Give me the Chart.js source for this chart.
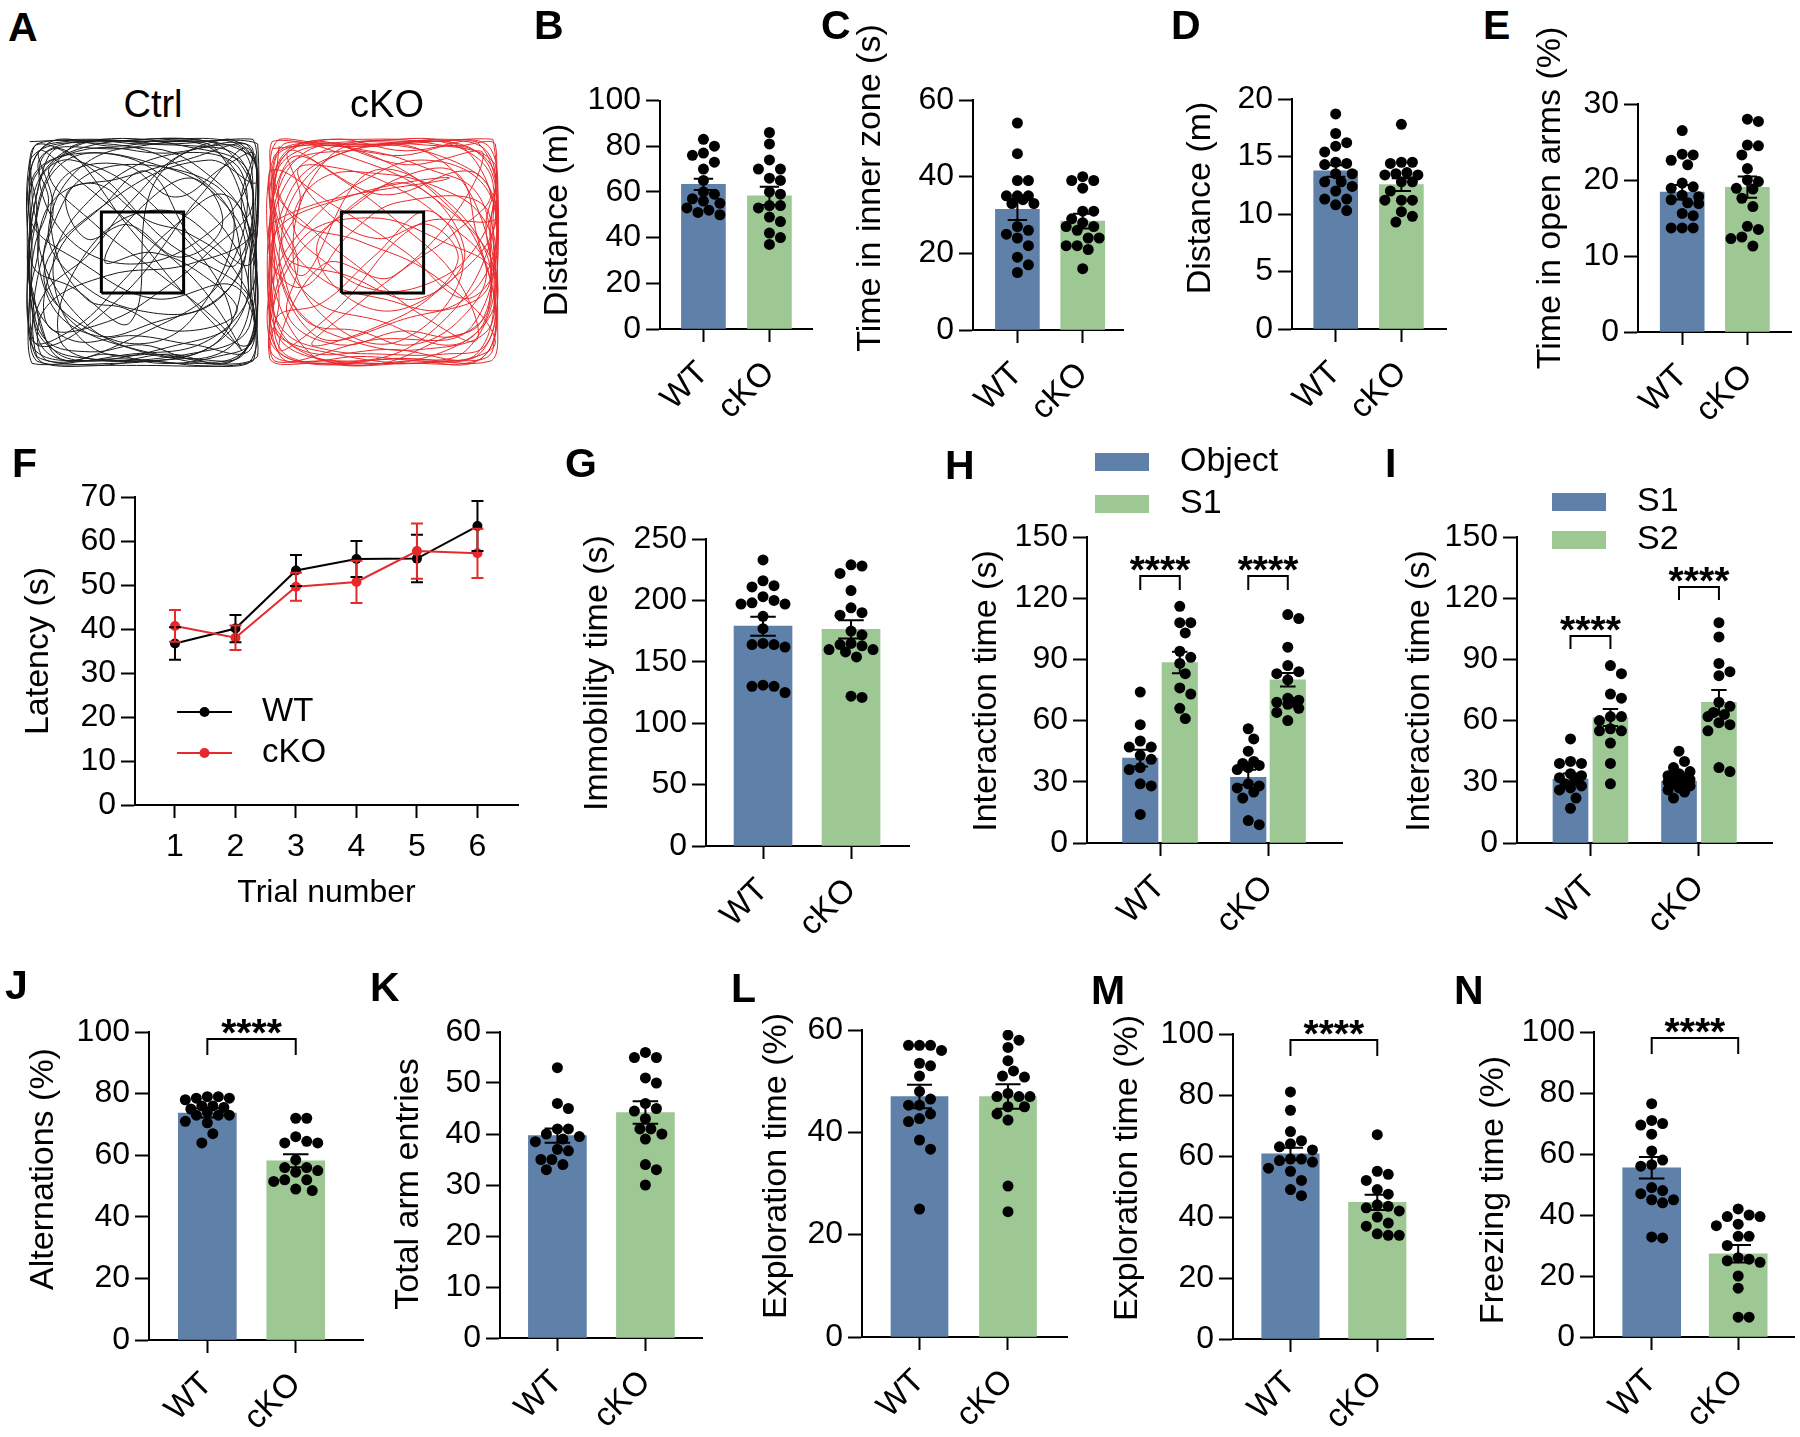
<!DOCTYPE html>
<html>
<head>
<meta charset="utf-8">
<script src="https://cdn.jsdelivr.net/npm/chart.js@4.4.1/dist/chart.umd.min.js"></script>
<style>
  body { margin: 0; background: #fff; }
  #fig { position: relative; width: 1800px; height: 1437px; background: #fff; overflow: hidden;
         font-family: "Liberation Sans", Arial, Helvetica, sans-serif; color: #000; }
  #fig canvas { position: absolute; }
  .tag { position: absolute; font-weight: bold; font-size: 41px; line-height: 1; }
  .arena { position: absolute; font-size: 38px; line-height: 1; transform: translateX(-50%); }
</style>
</head>
<body>
<div id="fig"></div>
<script>
const groups = ["WT", "cKO"];
const BLUE = "#5f80a8", GREEN = "#9dc894", RED = "#e8292c";

// A - open field tracks, arena units 0-100
const zoneSquare = [[32.5, 32.5], [67.5, 32.5], [67.5, 67.5], [32.5, 67.5], [32.5, 32.5]];
const ctrlTrack = [[2,98],[30,99],[60,97],[97,99],[98,70],[96,40],[99,5],[70,2],[40,4],[3,2],[2,35],[4,70],[15,95],[45,60],[70,30],[95,10],[97,50],[80,96],[50,98],[20,96],[5,60],[25,20],[60,5],[90,4],[96,30],[60,55],[30,85],[4,96],[3,50],[5,10],[40,30],[75,75],[95,95],[98,60],[70,45],[35,40],[8,25],[10,3],[50,15],[85,40],[92,85],[60,92],[25,70],[12,40],[30,8],[65,10],[88,22],[55,70],[20,90],[6,80],[4,20],[20,5],[80,8],[96,20],[94,75],[75,97],[40,95],[8,92],[15,60],[45,45],[80,60],[97,88],[85,99],[55,80],[45,20],[20,35],[3,45],[2,90],[35,97],[70,85],[90,60],[85,15],[50,3],[15,12],[30,55],[62,68],[96,45],[99,97],[65,98],[10,97],[2,65],[25,45],[55,30],[90,35],[97,3],[60,1],[5,5],[18,75],[50,88],[88,70],[70,20],[38,12],[8,40],[40,75],[78,90],[98,80],
    [96,92],[70,99],[35,98],[5,97],[3,75],[6,55],[2,30],[4,8],[25,3],[55,6],[85,3],[98,15],[97,40],[99,68],[94,97],[60,93],[28,95],[10,85],[30,62],[58,40],[82,20],[92,8],[75,35],[50,58],[22,82],[6,94],[12,70],[8,45],[18,22],[40,10],[72,6],[94,28],[88,55],[65,78],[40,92],[15,88],[4,60],[3,25],[12,5],[45,6],[78,12],[97,35],[95,62],[80,82],[55,95],[25,88],[10,60],[20,40],[48,25],[80,28],[96,58],[92,90],[70,94],[45,72],[28,50],[7,30],[5,3],[38,2],[66,4],[93,6],[98,48],[85,75],[62,60],[42,38],[22,18],[3,12],[2,55],[8,85],[32,99],[68,96],[95,85],[90,45],[72,55],[52,85],[33,70],[14,50],[10,18],[35,20],[60,35],[78,50],[97,72],[82,97],[50,99],[18,93],[3,80],
    [1,40],[2,15],[8,2],[30,1],[52,3],[75,1],[95,2],[99,25],[98,55],[99,85],[88,98],[62,99],[38,96],[14,99],[3,88],[5,68],[1,48],[6,22],[15,4],[35,6],[58,2],[82,5],[97,12],[95,38],[97,66],[93,94],[74,96],[48,97],[22,98],[6,90],[10,72],[4,52],[3,32],[9,12],[28,7],[50,10],[74,4],[92,15],[96,48],[92,72],[96,96],[68,90],[40,82],[18,76],[26,56],[44,62],[66,48],[84,62],[72,82],[50,70],[34,46],[54,50],[76,40],[90,24],[64,16],[42,26],[26,30],[12,55],[16,82],[42,88],[64,74],[86,88],[98,92],[98,40],[96,8],[72,10],[46,14],[20,12],[4,28],[2,58],[4,84],[24,93],[56,88],[80,76],[94,52],[82,30],[56,20],[30,14],[10,30],[8,66],[28,80],[52,64],[70,58],[88,44],[98,18],[86,2],[62,6],[36,3],[12,8],[2,38]];
const ckoTrack = [[3,95],[40,98],[80,96],[98,97],[97,60],[99,20],[96,3],[60,4],[20,2],[2,4],[4,45],[2,85],[30,70],[60,50],[85,30],[97,45],[70,75],[40,90],[8,97],[5,60],[20,30],[50,20],[80,10],[95,25],[90,70],[65,95],[30,92],[10,75],[3,30],[15,8],[55,8],[90,5],[98,40],[75,55],[45,65],[15,55],[5,15],[35,3],[70,15],[96,55],[92,92],[55,97],[20,85],[8,50],[35,40],[65,30],[85,50],[60,80],[25,60],[6,35],[4,3],[45,12],[88,18],[97,80],[75,98],[35,96],[3,98],[12,65],[40,55],[72,40],[98,12],[80,3],[30,6],[2,20],[10,90],[50,75],[88,85],[99,65],[65,62],[30,25],[6,8],[25,45],[55,40],[93,92],[60,88],[18,98],[2,75],[20,15],[62,22],[95,35],[82,68],[45,85],[15,40],[5,92],[48,96],[97,99],[98,28],[70,5],[22,4],[3,55],[38,75],[78,82],
    [2,62],[6,30],[3,6],[28,3],[62,2],[92,4],[99,30],[96,58],[98,88],[72,97],[42,99],[12,96],[4,78],[20,60],[42,42],[68,22],[90,12],[82,38],[58,62],[32,82],[10,94],[15,72],[6,50],[14,25],[36,12],[66,8],[96,18],[92,50],[76,72],[50,90],[22,96],[5,85],[8,58],[25,38],[50,30],[78,26],[97,48],[94,78],[68,90],[40,80],[18,62],[4,40],[2,12],[18,2],[52,4],[86,8],[99,52],[86,94],[56,99],[26,90],[12,48],[30,18],[58,12],[84,42],[70,68],[46,48],[24,28],[5,22],[10,5],[44,2],[75,3],[97,8],[95,68],[58,72],[36,58],[16,35],[2,48],[4,92],[38,97],[74,92],[96,76],[80,58],[62,45],[40,28],[20,10],[48,18],[72,32],[98,62],[90,98],[60,94],[28,99],[6,88],
    [2,28],[4,10],[14,3],[40,5],[66,3],[88,2],[98,14],[97,38],[99,70],[96,95],[78,99],[52,97],[26,97],[6,99],[2,80],[4,58],[2,36],[8,16],[26,8],[50,6],[76,6],[94,10],[98,34],[94,62],[98,84],[84,96],[58,92],[34,94],[10,88],[6,68],[14,46],[10,22],[32,10],[58,16],[82,14],[96,28],[90,58],[82,84],[62,84],[38,70],[22,52],[36,30],[60,26],[82,46],[70,62],[48,56],[28,66],[14,86],[34,86],[56,78],[76,64],[94,44],[84,22],[62,10],[40,16],[18,20],[8,40],[4,70],[18,94],[44,94],[70,86],[90,76],[96,50],[92,20],[74,12],[50,2],[24,2],[6,6],[3,44],[8,78],[30,96],[66,98],[92,96],[98,76],[88,50],[68,36],[46,34],[28,44],[12,62],[24,82],[50,84],[74,78],[92,66],[98,44],[90,6],[60,3],[30,2],[4,18],[2,52],[6,96]];

// B - open field distance (m)
const ofDistWT = [83, 80, 77, 76, 73, 70, 65, 60, 59, 57, 56, 55, 53, 52, 51, 50];
const ofDistKO = [86, 81, 74, 70, 70, 66, 65, 60, 59, 54, 54, 53, 49, 47, 42, 40, 37];
const ofDistMean = [63.3, 58.3], ofDistSem = [2.5, 4.0];

// C - time in inner zone (s)
const innerWT = [54, 46, 39, 39, 35, 35, 35, 34, 33, 33, 27, 26, 25, 24, 22, 19, 17, 15];
const innerKO = [40, 39, 39, 37, 31, 31, 29, 28, 27, 27, 26, 24, 24, 22, 22, 21, 16];
const innerMean = [31.5, 28.4], innerSem = [2.8, 1.9];

// D - elevated plus maze distance (m)
const epmDistWT = [18.7, 17, 16.2, 15.9, 15.4, 14.5, 14.4, 14.3, 13.5, 13.5, 12.8, 12.8, 12.4, 12, 11.3, 11.3, 10.8, 10.3];
const epmDistKO = [17.8, 14.5, 14.5, 14.4, 13.6, 13.5, 13.4, 13.4, 12.8, 12.8, 12.0, 11.2, 11.2, 11.2, 10.2, 9.8, 9.3];
const epmDistMean = [13.75, 12.55], epmDistSem = [0.5, 0.55];

// E - time in open arms (%)
const openArmsWT = [26.5, 23.4, 23.3, 22.6, 22, 19.6, 19.1, 18.9, 18, 17.8, 17.4, 17, 16.9, 15.6, 15.3, 13.7, 13.7, 13.7];
const openArmsKO = [28, 27.7, 24.6, 24.5, 23.3, 21.5, 20, 19.8, 18.9, 18.8, 17.6, 16.5, 13.9, 13.5, 12.5, 12.3, 11.3];
const openArmsMean = [18.4, 19.05], openArmsSem = [0.95, 1.4];

// F - latency per trial (s)
const trials = [1, 2, 3, 4, 5, 6];
const latencyWT = [36.7, 40.1, 53.3, 55.9, 56.0, 63.4];
const latencyWTSem = [3.7, 3.1, 3.5, 4.1, 5.4, 5.7];
const latencyKO = [40.7, 38.0, 49.6, 50.7, 57.7, 57.2];
const latencyKOSem = [3.6, 2.8, 3.2, 4.8, 6.3, 5.6];

// G - immobility time (s)
const immobWT = [233, 216, 212, 211, 203, 200, 198, 197, 197, 187, 177, 165, 164, 164, 162, 131, 130, 130, 125];
const immobKO = [229, 228, 222, 208, 194, 190, 188, 175, 172, 165, 164, 163, 160, 160, 158, 154, 122, 121];
const immobMean = [179, 176.4], immobSem = [7.7, 7.5];

// H - sociability: object vs S1 (s)
const sociObjWT = [74, 58, 50, 47, 47, 43, 41, 37, 36, 29, 28, 14];
const sociObjKO = [56, 51, 45, 40, 39, 38, 37, 36, 29, 28, 27, 25, 22, 11, 9];
const sociS1WT = [116, 108, 108, 103, 94, 91, 88, 83, 76, 73, 66, 61];
const sociS1KO = [112, 110, 96, 87, 84, 83, 80, 71, 70, 69, 69, 68, 66, 64, 60];
const sociObjMean = [41.6, 32.2], sociObjSem = [4.1, 3.7];
const sociS1Mean = [88.5, 80], sociS1Sem = [5.3, 3.3];

// I - social novelty: S1 vs S2 (s)
const novS1WT = [51, 40, 39, 39, 34, 33, 32, 31, 29, 28, 27, 26, 22, 17];
const novS1KO = [45, 40, 37, 35, 34, 33, 32, 32, 31, 31, 30, 30, 29, 28, 27, 26, 25, 22];
const novS2WT = [87, 83, 73, 71, 62, 62, 60, 56, 55, 55, 49, 39, 29];
const novS2KO = [108, 101, 88, 84, 82, 69, 67, 64, 63, 62, 59, 58, 55, 37, 35];
const novS1Mean = [31.3, 30.2], novS1Sem = [2.8, 1.5];
const novS2Mean = [61.5, 69], novS2Sem = [4.2, 6];

// J - alternations (%)
const altWT = [79, 79, 78.5, 78.5, 78, 76, 76, 75.5, 75, 74, 73, 73, 73, 71, 70.5, 67, 64];
const altKO = [72, 72, 66, 64.5, 64, 64, 58.5, 56, 56, 55, 54.5, 52, 52, 51.5, 49, 48.5];
const altMean = [73.7, 58.2], altSem = [1.5, 2.1];

// K - total arm entries
const entriesWT = [53, 46, 45, 41, 41, 40, 39.5, 39, 38.5, 37, 36.7, 35, 35, 34, 33];
const entriesKO = [56, 55, 55, 51, 50, 46, 45, 44.5, 43, 41, 41, 40, 39, 34, 33, 30];
const entriesMean = [39.7, 44.2], entriesSem = [1.4, 2.2];

// L - exploration time, training (%)
const expTrainWT = [57, 57, 57, 56, 53.5, 53, 51, 48, 46.5, 45.3, 45.3, 43.6, 42.7, 42.1, 38.5, 36.7, 25];
const expTrainKO = [59, 58, 56.6, 54, 52, 51, 50.8, 47.6, 47, 47, 47, 45, 45, 43.6, 42.4, 29.5, 24.5];
const expTrainMean = [47, 47], expTrainSem = [2.3, 2.4];

// M - exploration time, test (%)
const expTestWT = [81, 75, 68, 65, 64, 63, 62, 59, 59, 58.5, 58, 56, 55, 52, 49, 47];
const expTestKO = [67, 55, 54, 52, 49, 47.5, 44, 43.5, 43, 42, 40, 38, 37, 34.5, 34, 34];
const expTestMean = [60.7, 44.8], expTestSem = [2.0, 2.5];

// N - freezing time (%)
const freezeWT = [76.5, 71, 70, 69.5, 66.5, 61, 58, 56.5, 56, 49, 48, 47, 45, 45, 44, 32.8, 32.5];
const freezeKO = [42, 40, 39.5, 39.5, 37, 36.5, 33, 33, 30, 26, 25.5, 25, 24.5, 20, 16, 6.5, 6.5];
const freezeMean = [55.5, 27.3], freezeSem = [3.5, 2.9];

const FONT = '"Liberation Sans", Arial, Helvetica, sans-serif';
Chart.defaults.font.family = FONT;
Chart.defaults.color = "#000";

const fig = document.getElementById("fig");

function addCanvas(left, top, width, height) {
    const c = document.createElement("canvas");
    c.width = width;
    c.height = height;
    c.style.left = left + "px";
    c.style.top = top + "px";
    fig.appendChild(c);
    return c.getContext("2d");
}

function addText(cls, text, x, y) {
    const d = document.createElement("div");
    d.className = cls;
    d.textContent = text;
    d.style.left = x + "px";
    d.style.top = y + "px";
    fig.appendChild(d);
}

// spread dots sideways (scatter dot plot), overlapping once the bar width is used up
function swarm(values, cx, pxX, pxY, maxOff) {
    const d = 11;
    const placed = [];
    values.slice().sort((a, b) => b - a).forEach(v => {
        const py = v * pxY;
        let best = 0, bestGap = -1;
        for (let k = 0; ; k++) {
            const off = (k % 2 ? 1 : -1) * Math.ceil(k / 2) * d / 2;
            if (Math.abs(off) > maxOff) break;
            const gap = Math.min(Infinity, ...placed.map(p => Math.hypot(p.ox - off, p.py - py)));
            if (gap >= d) { best = off; break; }
            if (gap > bestGap) { bestGap = gap; best = off; }
        }
        placed.push({ ox: best, py, v });
    });
    return placed.map(p => ({ x: cx + p.ox / pxX, y: p.v }));
}

// mean +/- SEM
const errorBars = {
    id: "errorBars",
    afterDatasetsDraw(chart) {
        const { ctx, scales: { y } } = chart;
        chart.data.datasets.forEach((ds, di) => {
            if (!ds.errorBars) return;
            const meta = chart.getDatasetMeta(di);
            ctx.save();
            ctx.strokeStyle = ds.errorColor || "#000";
            ctx.lineWidth = 2;
            meta.data.forEach((el, i) => {
                const v = ds.data[i].y, e = ds.errorBars[i];
                const hi = y.getPixelForValue(v + e), lo = y.getPixelForValue(v - e);
                const half = ds.capHalf || el.width * 0.22;
                ctx.beginPath();
                ctx.moveTo(el.x, hi); ctx.lineTo(el.x, lo);
                ctx.moveTo(el.x - half, hi); ctx.lineTo(el.x + half, hi);
                ctx.moveTo(el.x - half, lo); ctx.lineTo(el.x + half, lo);
                ctx.stroke();
            });
            ctx.restore();
        });
    }
};

// significance brackets
function sigMarks(items) {
    return {
        id: "sigMarks",
        afterDraw(chart) {
            const { ctx, scales: { x, y } } = chart;
            items.forEach(m => {
                const x1 = x.getPixelForValue(m.x1), x2 = x.getPixelForValue(m.x2);
                const yy = Math.round(y.getPixelForValue(m.y));
                ctx.save();
                ctx.strokeStyle = "#000";
                ctx.lineWidth = 2;
                ctx.beginPath();
                ctx.moveTo(x1, yy + m.leg); ctx.lineTo(x1, yy); ctx.lineTo(x2, yy); ctx.lineTo(x2, yy + m.leg);
                ctx.stroke();
                ctx.fillStyle = "#000";
                ctx.font = "bold 39px " + FONT;
                ctx.textAlign = "center";
                ctx.textBaseline = "alphabetic";
                ctx.fillText("****", (x1 + x2) / 2, yy - 16 + 0.59 * 39);
                ctx.restore();
            });
        }
    };
}

// rotated y-axis title
function sideTitle(t) {
    return {
        id: "sideTitle",
        afterDraw(chart) {
            const ctx = chart.ctx;
            ctx.save();
            ctx.translate(t.x, t.y);
            ctx.rotate(-Math.PI / 2);
            ctx.font = "34px " + FONT;
            ctx.fillStyle = "#000";
            ctx.textAlign = "center";
            ctx.textBaseline = "middle";
            ctx.fillText(t.text, 0, 0);
            ctx.restore();
        }
    };
}

function barKey(k) {
    return {
        id: "barKey",
        afterDraw(chart) {
            const ctx = chart.ctx;
            let i = 0;
            ctx.save();
            ctx.font = "34px " + FONT;
            ctx.textBaseline = "middle";
            ctx.textAlign = "left";
            chart.data.datasets.forEach(ds => {
                if (ds.type !== "bar") return;
                const y = k.y + i * k.dy;
                ctx.fillStyle = ds.backgroundColor;
                ctx.fillRect(k.x, y - 9, 54, 18);
                ctx.fillStyle = "#000";
                ctx.fillText(ds.label, k.tx, y);
                i++;
            });
            ctx.restore();
        }
    };
}

function lineKey(k) {
    return {
        id: "lineKey",
        afterDraw(chart) {
            const ctx = chart.ctx;
            ctx.save();
            ctx.font = "33px " + FONT;
            ctx.textBaseline = "middle";
            ctx.textAlign = "left";
            chart.data.datasets.forEach((ds, i) => {
                const y = k.y + i * k.dy;
                ctx.strokeStyle = ds.borderColor;
                ctx.fillStyle = ds.borderColor;
                ctx.lineWidth = 2;
                ctx.beginPath(); ctx.moveTo(k.x1, y); ctx.lineTo(k.x2, y); ctx.stroke();
                ctx.beginPath(); ctx.arc((k.x1 + k.x2) / 2, y, 5, 0, Math.PI * 2); ctx.fill();
                ctx.fillStyle = "#000";
                ctx.fillText(ds.label, k.tx, y);
            });
            ctx.restore();
        }
    };
}

const tickGrid = len => ({ display: true, drawOnChartArea: false, drawTicks: true, tickLength: len, tickWidth: 2, tickColor: "#000", color: "#000", offset: false });
const axisBorder = { display: true, color: "#000", width: 2 };

function barPanel(p) {
    const left = Math.round(p.titleX - 24);
    const width = Math.min(1800, p.axisRight + 6) - left;
    const ctx = addCanvas(left, p.rowTop, width, p.rowBottom - p.rowTop);
    const pxX = (p.axisRight - p.axisX) / (p.xmax - p.xmin);
    const pxY = (p.yBot - p.yTop) / p.ymax;

    const datasets = [];
    p.series.forEach(s => {
        datasets.push({
            type: "bar", label: s.label,
            data: groups.map((g, i) => ({ x: i + 1 + s.offset, y: s.mean[i] })),
            backgroundColor: s.color, borderWidth: 0, barThickness: p.barW, grouped: false,
            order: 2, errorBars: s.sem
        });
        s.dots.forEach((vals, i) => datasets.push({
            type: "scatter", data: swarm(vals, i + 1 + s.offset, pxX, pxY, p.barW / 2 - 3),
            pointRadius: 5.5, pointBackgroundColor: "#000", pointBorderWidth: 0, order: 1
        }));
    });

    const plugins = [errorBars, sideTitle({ text: p.title, x: p.titleX - left, y: p.titleY - p.rowTop })];
    if (p.sig) plugins.push(sigMarks(p.sig));
    if (p.key) plugins.push(barKey({ x: p.key.x - left, y: p.key.y - p.rowTop, dy: p.key.dy, tx: p.key.tx - left }));

    new Chart(ctx, {
        type: "bar",
        data: { datasets },
        options: {
            responsive: false, animation: false, events: [], devicePixelRatio: 1,
            layout: { padding: { top: p.yTop - p.rowTop, right: width - (p.axisRight - left), left: 0, bottom: 0 } },
            plugins: { legend: { display: false }, tooltip: { enabled: false } },
            scales: {
                x: {
                    type: "linear", min: p.xmin, max: p.xmax, offset: false,
                    afterBuildTicks: sc => { sc.ticks = groups.map((g, i) => ({ value: i + 1 })); },
                    afterFit: sc => { sc.height = p.rowBottom - p.yBot; },
                    ticks: { callback: (v, i) => groups[i], autoSkip: false, minRotation: 45, maxRotation: 45, padding: 12, font: { size: 33 } },
                    grid: tickGrid(13), border: axisBorder
                },
                y: {
                    min: 0, max: p.ymax,
                    afterFit: sc => { sc.width = p.axisX - left; },
                    ticks: { stepSize: p.step, padding: 5, font: { size: 32 } },
                    grid: tickGrid(14), border: axisBorder
                }
            }
        },
        plugins
    });
}

const pair = (mean, sem, wt, ko) => ({ label: "", color: [BLUE, GREEN], mean, sem, dots: [wt, ko], offset: 0 });

const row1 = { rowTop: 0, rowBottom: 430 };
const row2 = { rowTop: 440, rowBottom: 955 };
const row3 = { rowTop: 960, rowBottom: 1437 };

// A - tracks
function arena(left, track, color) {
    const ctx = addCanvas(left, 134, 241, 237);
    new Chart(ctx, {
        type: "line",
        data: {
            datasets: [
                { data: zoneSquare.map(([x, y]) => ({ x, y })), borderColor: "#000", borderWidth: 3, pointRadius: 0, tension: 0 },
                { data: track.map(([x, y]) => ({ x, y })), borderColor: color, borderWidth: 1, pointRadius: 0, tension: 0.4, clip: false }
            ]
        },
        options: {
            responsive: false, animation: false, events: [], devicePixelRatio: 1,
            layout: { padding: 3 },
            plugins: { legend: { display: false }, tooltip: { enabled: false } },
            scales: {
                x: { type: "linear", min: 0, max: 100, display: false },
                y: { min: 0, max: 100, display: false }
            }
        }
    });
}
arena(22, ctrlTrack, "#1a1a1a");
arena(262, ckoTrack, RED);
addText("arena", "Ctrl", 153, 85);
addText("arena", "cKO", 387, 85);

barPanel({ ...row1, title: "Distance (m)", titleX: 558, titleY: 220, axisX: 660, axisRight: 812, yTop: 100.5, yBot: 329,
    ymax: 100, step: 20, xmin: 0.342, xmax: 2.645, barW: 44,
    series: [pair(ofDistMean, ofDistSem, ofDistWT, ofDistKO)] });
barPanel({ ...row1, title: "Time in inner zone (s)", titleX: 871, titleY: 188, axisX: 973, axisRight: 1123, yTop: 100, yBot: 330,
    ymax: 60, step: 20, xmin: 0.32, xmax: 2.617, barW: 44,
    series: [pair(innerMean, innerSem, innerWT, innerKO)] });
barPanel({ ...row1, title: "Distance (m)", titleX: 1201, titleY: 198, axisX: 1292, axisRight: 1446, yTop: 99, yBot: 329,
    ymax: 20, step: 5, xmin: 0.335, xmax: 2.679, barW: 44,
    series: [pair(epmDistMean, epmDistSem, epmDistWT, epmDistKO)] });
barPanel({ ...row1, title: "Time in open arms (%)", titleX: 1551, titleY: 198, axisX: 1638, axisRight: 1791, yTop: 104, yBot: 332,
    ymax: 30, step: 10, xmin: 0.322, xmax: 2.669, barW: 44,
    series: [pair(openArmsMean, openArmsSem, openArmsWT, openArmsKO)] });

// F - latency line chart
(function () {
    const left = 15, top = 440;
    const ctx = addCanvas(left, top, 518 + 8 - left, 920 - top);
    new Chart(ctx, {
        type: "line",
        data: {
            datasets: [
                { label: "WT", data: trials.map((t, i) => ({ x: t, y: latencyWT[i] })), borderColor: "#000", backgroundColor: "#000",
                  borderWidth: 2, pointRadius: 5, pointBorderWidth: 0, tension: 0, errorBars: latencyWTSem, errorColor: "#000", capHalf: 6, order: 2 },
                { label: "cKO", data: trials.map((t, i) => ({ x: t, y: latencyKO[i] })), borderColor: RED, backgroundColor: RED,
                  borderWidth: 2, pointRadius: 5, pointBorderWidth: 0, tension: 0, errorBars: latencyKOSem, errorColor: RED, capHalf: 6, order: 1 }
            ]
        },
        options: {
            responsive: false, animation: false, events: [], devicePixelRatio: 1,
            layout: { padding: { top: 497 - top, right: 8, left: 0, bottom: 0 } },
            plugins: { legend: { display: false }, tooltip: { enabled: false } },
            scales: {
                x: {
                    type: "linear", min: 0.339, max: 6.67, offset: false,
                    afterBuildTicks: sc => { sc.ticks = trials.map(v => ({ value: v })); },
                    afterFit: sc => { sc.height = 920 - 805; },
                    ticks: { autoSkip: false, minRotation: 0, maxRotation: 0, padding: 10, font: { size: 32 } },
                    grid: tickGrid(13), border: axisBorder,
                    title: { display: true, text: "Trial number", font: { size: 32 }, padding: { top: 0, bottom: 8 } }
                },
                y: {
                    min: 0, max: 70,
                    afterFit: sc => { sc.width = 135 - left; },
                    ticks: { stepSize: 10, padding: 5, font: { size: 32 } },
                    grid: tickGrid(14), border: axisBorder
                }
            }
        },
        plugins: [errorBars, sideTitle({ text: "Latency (s)", x: 39 - left, y: 651 - top }),
                  lineKey({ x1: 177 - left, x2: 232 - left, y: 712 - top, dy: 41, tx: 262 - left })]
    });
})();

barPanel({ ...row2, title: "Immobility time (s)", titleX: 598, titleY: 673, axisX: 706, axisRight: 909, yTop: 539, yBot: 846,
    ymax: 250, step: 50, xmin: 0.352, xmax: 2.659, barW: 58,
    series: [pair(immobMean, immobSem, immobWT, immobKO)] });
barPanel({ ...row2, title: "Interaction time (s)", titleX: 987, titleY: 691, axisX: 1087, axisRight: 1342, yTop: 537, yBot: 843,
    ymax: 150, step: 30, xmin: 0.324, xmax: 2.685, barW: 35.5,
    series: [
        { label: "Object", color: BLUE, mean: sociObjMean, sem: sociObjSem, dots: [sociObjWT, sociObjKO], offset: -0.183 },
        { label: "S1", color: GREEN, mean: sociS1Mean, sem: sociS1Sem, dots: [sociS1WT, sociS1KO], offset: 0.183 }
    ],
    key: { x: 1095, y: 462, dy: 42, tx: 1180 },
    sig: [{ x1: 0.817, x2: 1.183, y: 130.9, leg: 14 }, { x1: 1.817, x2: 2.183, y: 130.9, leg: 14 }] });
barPanel({ ...row2, title: "Interaction time (s)", titleX: 1420, titleY: 691, axisX: 1517, axisRight: 1772, yTop: 537, yBot: 843,
    ymax: 150, step: 30, xmin: 0.323, xmax: 2.673, barW: 35,
    series: [
        { label: "S1", color: BLUE, mean: novS1Mean, sem: novS1Sem, dots: [novS1WT, novS1KO], offset: -0.184 },
        { label: "S2", color: GREEN, mean: novS2Mean, sem: novS2Sem, dots: [novS2WT, novS2KO], offset: 0.184 }
    ],
    key: { x: 1552, y: 502, dy: 38, tx: 1637 },
    sig: [{ x1: 0.816, x2: 1.184, y: 101.5, leg: 13 }, { x1: 1.816, x2: 2.184, y: 125.5, leg: 13 }] });

barPanel({ ...row3, title: "Alternations (%)", titleX: 44, titleY: 1169, axisX: 149, axisRight: 363, yTop: 1032, yBot: 1340,
    ymax: 100, step: 20, xmin: 0.34, xmax: 2.761, barW: 58,
    series: [pair(altMean, altSem, altWT, altKO)],
    sig: [{ x1: 1, x2: 2, y: 97.7, leg: 16 }] });
barPanel({ ...row3, title: "Total arm entries", titleX: 409, titleY: 1184, axisX: 500, axisRight: 702, yTop: 1032, yBot: 1338,
    ymax: 60, step: 10, xmin: 0.348, xmax: 2.643, barW: 58,
    series: [pair(entriesMean, entriesSem, entriesWT, entriesKO)] });
barPanel({ ...row3, title: "Exploration time (%)", titleX: 777, titleY: 1166, axisX: 862, axisRight: 1067, yTop: 1030, yBot: 1337,
    ymax: 60, step: 20, xmin: 0.35, xmax: 2.667, barW: 57,
    series: [pair(expTrainMean, expTrainSem, expTrainWT, expTrainKO)] });
barPanel({ ...row3, title: "Exploration time (%)", titleX: 1128, titleY: 1168, axisX: 1233, axisRight: 1433, yTop: 1034, yBot: 1339,
    ymax: 100, step: 20, xmin: 0.338, xmax: 2.642, barW: 57.5,
    series: [pair(expTestMean, expTestSem, expTestWT, expTestKO)],
    sig: [{ x1: 1, x2: 2, y: 98, leg: 16 }] });
barPanel({ ...row3, title: "Freezing time (%)", titleX: 1494, titleY: 1190, axisX: 1594, axisRight: 1796, yTop: 1032, yBot: 1337,
    ymax: 100, step: 20, xmin: 0.333, xmax: 2.651, barW: 58,
    series: [pair(freezeMean, freezeSem, freezeWT, freezeKO)],
    sig: [{ x1: 1, x2: 2, y: 98, leg: 16 }] });

// panel letters
[["A", 10, 12], ["B", 536, 10], ["C", 823, 10], ["D", 1173, 10], ["E", 1485, 10],
 ["F", 14, 448], ["G", 567, 448], ["H", 947, 450], ["I", 1387, 448],
 ["J", 7, 970], ["K", 372, 972], ["L", 733, 973], ["M", 1093, 975], ["N", 1456, 975]]
    .forEach(([t, x, y]) => addText("tag", t, x - 2, y - 5));
</script>
</body>
</html>
